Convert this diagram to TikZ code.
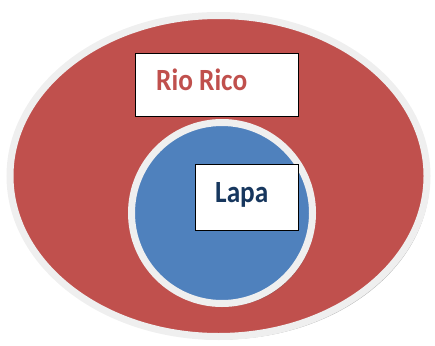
\documentclass[tikz,border=0pt]{standalone}
\usepackage{fontspec}
\setmainfont{Carlito}
\usetikzlibrary{shapes.geometric,shadows}
\definecolor{rred}{HTML}{C0504D}
\definecolor{bblue}{HTML}{4F81BD}
\definecolor{rimgray}{HTML}{EFEFEF}
\definecolor{navy}{HTML}{17375E}
\tikzset{
  region/.style={draw=rimgray, line width=7pt, inner sep=0pt, outer sep=0pt,
    drop shadow={shadow xshift=2.5pt, shadow yshift=-3pt, opacity=0.45, fill=black!70}},
  labelbox/.style={draw=black, line width=0.9pt, fill=white, inner sep=0pt,
    drop shadow={shadow xshift=1pt, shadow yshift=-1pt, opacity=0.3}},
  labeltext/.style={inner sep=0pt, anchor=base west, font=\fontsize{27.3}{30}\selectfont\bfseries}
}
\newcommand{\tallText}[1]{\scalebox{1}[1.13]{#1}}
\begin{document}
\begin{tikzpicture}[x=1pt,y=-1pt]
\useasboundingbox (0,0) rectangle (435,345);
\node[region, ellipse, fill=rred, minimum width=417pt, minimum height=321pt] (outer) at (218.5,176) {};
\node[region, circle, fill=bblue, minimum size=181pt] (inner) at (222,213) {};
\node[labelbox, minimum width=163pt, minimum height=63pt] (riobox) at (216.5,84.5) {};
\node[labeltext, text=rred] (riotext) at (156,90) {\tallText{Rio Rico}};
\node[labelbox, minimum width=103pt, minimum height=66pt] (lapabox) at (246.5,197) {};
\node[labeltext, text=navy] (lapatext) at (215,202) {\tallText{Lapa}};
\end{tikzpicture}
\end{document}
